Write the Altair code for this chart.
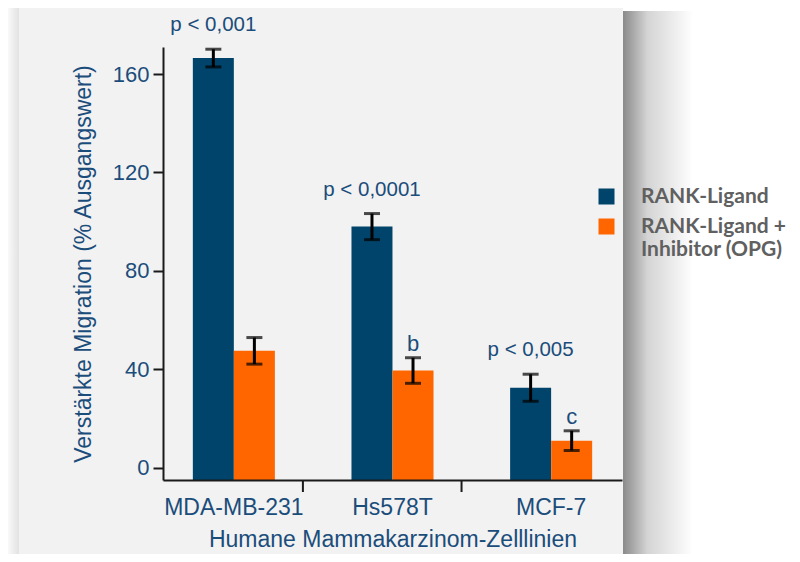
import altair as alt
import pandas as pd

# ---- data ----
cells = ["MDA-MB-231", "Hs578T", "MCF-7"]
series = ["RANK-Ligand", "RANK-Ligand + Inhibitor (OPG)"]
rank_vals = [166.5, 98.0, 32.5]
rank_err = [3.6, 5.3, 5.5]
opg_vals = [47.5, 39.5, 11.0]
opg_err = [5.4, 5.2, 4.0]
rank_notes = ["p < 0,001", "p < 0,0001", "p < 0,005"]
opg_notes = ["", "b", "c"]
y_ticks = [0, 40, 80, 120, 160]
y_domain = [-5, 171]
boundary_cells = ["MDA-MB-231", "Hs578T"]

# ---- styling ----
colors = ["#00446b", "#ff6600"]
txt = "#1b4d7b"
axis_col = "#1a1a1a"
font = "Liberation Sans"
W, H = 459, 433

rows = []
for i, c in enumerate(cells):
    rows.append(dict(cell=c, series=series[0], value=rank_vals[i], err=rank_err[i], note=rank_notes[i]))
    rows.append(dict(cell=c, series=series[1], value=opg_vals[i], err=opg_err[i], note=opg_notes[i]))
df = pd.DataFrame(rows)

xscale = alt.Scale(domain=cells, paddingInner=0.4826, paddingOuter=0.188)
yscale = alt.Scale(domain=y_domain, nice=False, zero=False)
xoff = alt.XOffset("series:N", sort=series, scale=alt.Scale(domain=series, paddingInner=0, paddingOuter=0))

x_enc = alt.X(
    "cell:N", scale=xscale, sort=cells,
    axis=alt.Axis(
        title="Humane Mammakarzinom-Zelllinien", labelAngle=0, ticks=False, tickSize=0,
        labelPadding=16, labelFontSize=23, labelFont=font, labelColor=txt,
        titleFontSize=23, titleFont=font, titleColor=txt, titleFontWeight="normal", titlePadding=9,
        domainColor=axis_col, domainWidth=2, zindex=1,
    ),
)
y_axis = alt.Axis(
    title="Verstärkte Migration (% Ausgangswert)", values=y_ticks, grid=False,
    tickSize=10, tickWidth=2, tickColor=axis_col, domainColor=axis_col, domainWidth=2,
    labelPadding=4, labelFontSize=22, labelFont=font, labelColor=txt,
    titleFontSize=23, titleFont=font, titleColor=txt, titleFontWeight="normal", titlePadding=17,
    zindex=1,
)

one = pd.DataFrame({"k": [0]})

panel = alt.Chart(one).mark_rect(color="#f2f2f2").encode(
    x=alt.value(-144), x2=alt.value(460), y=alt.value(-45), y2=alt.value(520)
)
shadow_r = alt.Chart(one).mark_rect(
    fill=alt.LinearGradient(
        gradient="linear", x1=0, x2=1, y1=0, y2=0,
        stops=[alt.GradientStop(color="#8a8a8a", offset=0),
               alt.GradientStop(color="#d4d4d4", offset=0.35),
               alt.GradientStop(color="#ffffff", offset=1)],
    )
).encode(x=alt.value(460), x2=alt.value(530), y=alt.value(-36), y2=alt.value(520))
shadow_l = alt.Chart(one).mark_rect(
    fill=alt.LinearGradient(
        gradient="linear", x1=0, x2=1, y1=0, y2=0,
        stops=[alt.GradientStop(color="#fbfbfb", offset=0),
               alt.GradientStop(color="#e2e2e2", offset=1)],
    )
).encode(x=alt.value(-156), x2=alt.value(-144), y=alt.value(-45), y2=alt.value(520))

base = alt.Chart(df).transform_calculate(
    lo="datum.value - datum.err", hi="datum.value + datum.err"
)

bars = base.mark_bar(size=41).encode(
    x=x_enc,
    xOffset=xoff,
    y=alt.Y("value:Q", scale=yscale, axis=y_axis),
    y2=alt.datum(y_domain[0]),
    color=alt.Color(
        "series:N", sort=series,
        scale=alt.Scale(domain=series, range=colors),
        legend=alt.Legend(
            title=None, orient="none", legendX=433, legendY=139, padding=0,
            symbolType="square", symbolSize=256, symbolStrokeWidth=0, symbolOpacity=1,
            labelFont="Lato", labelFontWeight="bold", labelFontSize=21, labelColor="#606060",
            labelOffset=24, labelLimit=0, rowPadding=8, labelBaseline="middle",
            labelExpr="datum.label == 'RANK-Ligand + Inhibitor (OPG)' ? ['RANK-Ligand +', 'Inhibitor (OPG)'] : datum.label",
        ),
    ),
)

err_rule = base.mark_rule(color="#000000", strokeWidth=3).encode(
    x=alt.X("cell:N", scale=xscale, sort=cells), xOffset=xoff,
    y=alt.Y("lo:Q", scale=yscale), y2="hi:Q",
)
cap_hi = base.mark_tick(color="#000000", thickness=3, size=16, orient="horizontal").encode(
    x=alt.X("cell:N", scale=xscale, sort=cells), xOffset=xoff, y=alt.Y("hi:Q", scale=yscale)
)
cap_lo = base.mark_tick(color="#000000", thickness=3, size=16, orient="horizontal").encode(
    x=alt.X("cell:N", scale=xscale, sort=cells), xOffset=xoff, y=alt.Y("lo:Q", scale=yscale)
)

p_text = base.transform_filter(alt.datum.series == series[0]).mark_text(
    dy=-18, baseline="alphabetic", align="center", fontSize=20.5, font=font, color=txt
).encode(
    x=alt.X("cell:N", scale=xscale, sort=cells), xOffset=xoff,
    y=alt.Y("hi:Q", scale=yscale), text="note:N",
)
l_text = base.transform_filter(alt.datum.series == series[1]).transform_filter(alt.datum.note != "").mark_text(
    dy=-7, baseline="alphabetic", align="center", fontSize=22, font=font, color=txt
).encode(
    x=alt.X("cell:N", scale=xscale, sort=cells), xOffset=xoff,
    y=alt.Y("hi:Q", scale=yscale), text="note:N",
)

xticks = alt.Chart(pd.DataFrame({"cell": boundary_cells})).mark_rule(
    color=axis_col, strokeWidth=2, xOffset=28
).encode(
    x=alt.X("cell:N", scale=xscale, sort=cells, bandPosition=1),
    y=alt.value(H), y2=alt.value(H + 12),
)

chart = alt.layer(
    shadow_l, panel, shadow_r, bars, err_rule, cap_hi, cap_lo, p_text, l_text, xticks
).properties(
    width=W, height=H,
    autosize=alt.AutoSizeParams(type="none"),
    padding={"left": 155, "top": 39, "right": 170, "bottom": 74},
    background="#ffffff",
).configure_view(stroke=None, fill=None)

chart.save("out.html", embed_options={"renderer": "svg", "actions": False})
